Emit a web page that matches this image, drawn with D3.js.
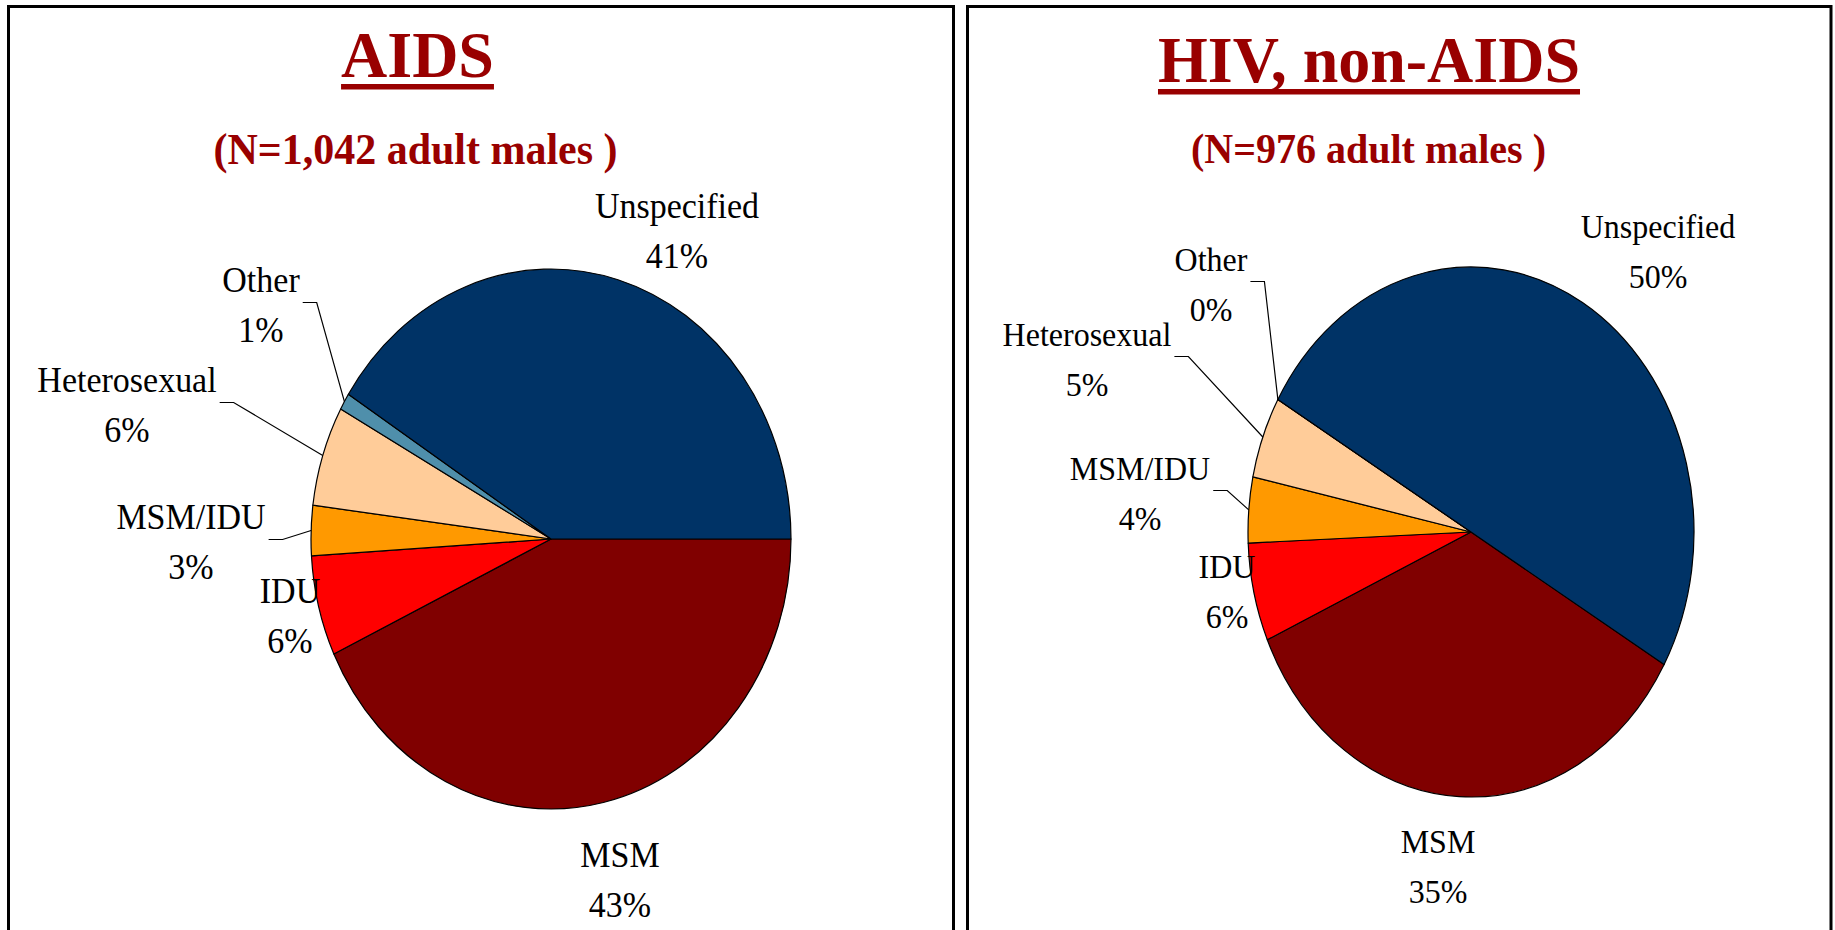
<!DOCTYPE html>
<html>
<head>
<meta charset="utf-8">
<script src="https://cdn.jsdelivr.net/npm/d3@7"></script>
<style>
  html, body { margin: 0; padding: 0; background: #fff; }
  svg { display: block; }
  text { font-family: "Liberation Serif", "Times New Roman", serif; }
</style>
</head>
<body>
<svg id="chart"></svg>
<script>
// slice order as drawn, clockwise from the start angle
const categories = ["MSM", "IDU", "MSM/IDU", "Heterosexual", "Other", "Unspecified"];
const aidsValues = [43, 6, 3, 6, 1, 41];
const hivValues = [35, 6, 4, 5, 0, 50];
const sliceColors = ["#800000", "#ff0000", "#ff9900", "#ffcc99", "#4f8fab", "#003366"];
const titles = ["AIDS", "HIV, non-AIDS"];
const subtitles = ["(N=1,042 adult males )", "(N=976 adult males )"];
const leaderCats = ["MSM/IDU", "Heterosexual", "Other"];

const width = 1835, height = 930;
const titleColor = "#990000";
const lineGap = 50;

const svg = d3.select("#chart")
    .attr("width", width)
    .attr("height", height);

// layout of the two panels (label offsets are relative to the pie centre)
const panels = [
  {
    values: aidsValues, box: [8.5, 6.5, 945, 950],
    title: [417.5, 77], sub: [415.5, 164], titleSize: 64, subSize: 42,
    cx: 551, cy: 539, rx: 240, ry: 270, start: 90, labelSize: 34,
    labels: {"Unspecified": [126, -321], "Other": [-290, -247], "Heterosexual": [-424, -147],
             "MSM/IDU": [-360, -10], "IDU": [-261, 64], "MSM": [69, 328]}
  },
  {
    values: hivValues, box: [967.5, 6.5, 863.5, 950],
    title: [1369, 82], sub: [1368.5, 163], titleSize: 64, subSize: 40,
    cx: 1471, cy: 532, rx: 223, ry: 265, start: 120, labelSize: 32,
    labels: {"Unspecified": [187, -294], "Other": [-260, -261], "Heterosexual": [-384, -186],
             "MSM/IDU": [-331, -52], "IDU": [-244, 46], "MSM": [-33, 321]}
  }
];

// text that is a little taller than wide, like the source
function stretchedText(parent, x, y, sy) {
  return parent.append("text")
      .attr("transform", `translate(${x},${y}) scale(1,${sy})`)
      .attr("text-anchor", "middle");
}

panels.forEach((p, i) => {
  const panel = svg.append("g");

  // frame
  panel.append("rect")
      .attr("x", p.box[0]).attr("y", p.box[1])
      .attr("width", p.box[2]).attr("height", p.box[3])
      .attr("fill", "none")
      .attr("stroke", "#000")
      .attr("stroke-width", 3);

  // title with underline
  const t = stretchedText(panel, p.title[0], p.title[1], 1.03)
      .attr("font-size", p.titleSize)
      .attr("font-weight", "bold")
      .attr("fill", titleColor)
      .text(titles[i]);
  const tw = t.node().getComputedTextLength();
  panel.append("rect")
      .attr("x", p.title[0] - tw / 2)
      .attr("y", p.title[1] + 7)
      .attr("width", tw)
      .attr("height", 5.5)
      .attr("fill", titleColor);

  stretchedText(panel, p.sub[0], p.sub[1], 1.04)
      .attr("font-size", p.subSize)
      .attr("font-weight", "bold")
      .attr("fill", titleColor)
      .text(subtitles[i]);

  // pie
  const data = categories.map((c, k) => ({cat: c, value: p.values[k], color: sliceColors[k]}));
  const a0 = p.start * Math.PI / 180;
  const pie = d3.pie().sort(null).value(d => d.value)
      .startAngle(a0).endAngle(a0 + 2 * Math.PI);
  const arcs = pie(data);
  const arc = d3.arc().innerRadius(0).outerRadius(p.rx);

  panel.append("g")
      .attr("transform", `translate(${p.cx},${p.cy}) scale(1,${p.ry / p.rx})`)
      .selectAll("path")
      .data(arcs)
      .enter()
      .append("path")
      .attr("d", arc)
      .attr("fill", d => d.data.color)
      .attr("stroke", "#000")
      .attr("stroke-width", 1.2)
      .attr("stroke-linejoin", "round")
      .attr("vector-effect", "non-scaling-stroke");

  // labels and leader lines
  arcs.forEach(a => {
    const off = p.labels[a.data.cat];
    const lx = p.cx + off[0], ly = p.cy + off[1];
    const name = stretchedText(panel, lx, ly, 1.08)
        .attr("font-size", p.labelSize)
        .attr("fill", "#000")
        .text(a.data.cat);
    stretchedText(panel, lx, ly + lineGap, 1.08)
        .attr("font-size", p.labelSize)
        .attr("fill", "#000")
        .text(a.data.value + "%");

    if (leaderCats.includes(a.data.cat)) {
      const right = lx + name.node().getComputedTextLength() / 2;
      const mid = (a.startAngle + a.endAngle) / 2;
      const ex = p.cx + p.rx * Math.sin(mid);
      const ey = p.cy - p.ry * Math.cos(mid);
      panel.append("path")
          .attr("d", d3.line()([[right + 3, ly + 10.5], [right + 17, ly + 10.5], [ex, ey]]))
          .attr("fill", "none")
          .attr("stroke", "#000")
          .attr("stroke-width", 1.2);
    }
  });
});
</script>
</body>
</html>
